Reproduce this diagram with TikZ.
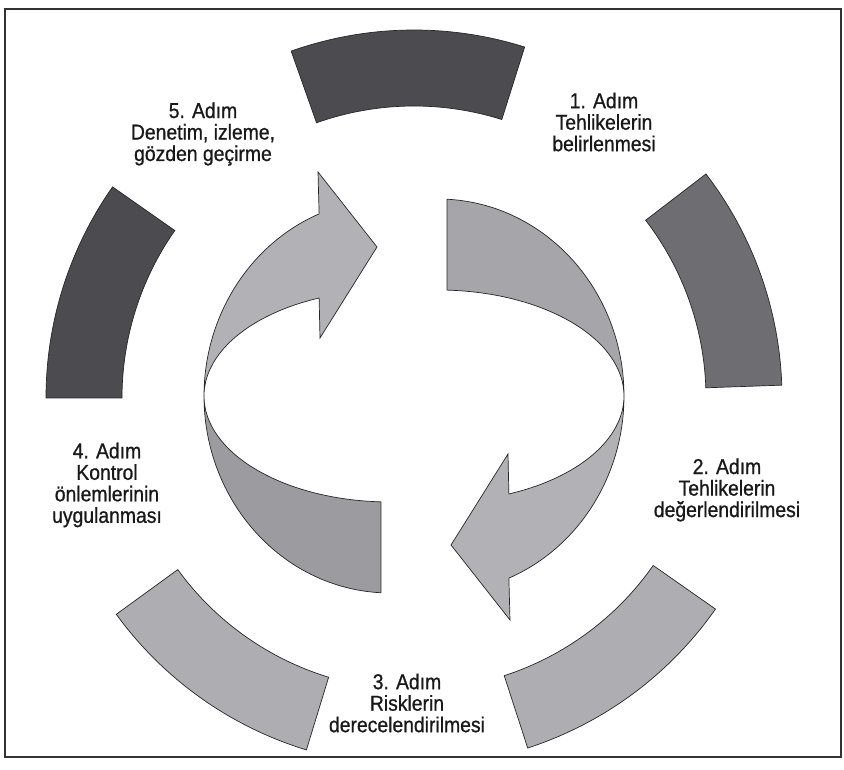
\documentclass[tikz,border=0pt]{standalone}
\usepackage{fontspec}
\setmainfont{Liberation Sans}[FakeStretch=0.9, FakeBold=0.8]
\definecolor{segdark}{HTML}{4C4C50}
\definecolor{segmid}{HTML}{6E6E72}
\definecolor{seglight}{HTML}{AEAEB2}
\definecolor{headfill}{HTML}{B2B2B6}
\definecolor{tailleft}{HTML}{9C9CA0}
\definecolor{tailright}{HTML}{A6A6AA}
\begin{document}
\begin{tikzpicture}[x=1pt,y=1pt,
  framestyle/.style={draw=black!80, line width=1.2pt},
  segstyle/.style={draw=black!85, line width=0.7pt},
  bandstyle/.style={draw=black!85, line width=0.7pt},
  lbl/.style={align=center, inner sep=0pt, text=black!90, font=\fontsize{21.5}{21.5}\selectfont}]
\useasboundingbox (0,0) rectangle (844,770);
\fill[white] (0,0) rectangle (844,770);
% frame
\draw[framestyle] (5,13) rectangle (841,761);
% outer ring segments
\begin{scope}[shift={(414,372)}]
\foreach \a/\b/\c in {72.5/109.5/segdark, 2/37.5/segmid, -72/-35/seglight, -144/-107/seglight, 145/180/segdark}
  \draw[segstyle, fill=\c] (\a:368) arc[start angle=\a, end angle=\b, radius=368]
     -- (\b:292) arc[start angle=\b, end angle=\a, radius=292] -- cycle;
\end{scope}
% left circular arrow
\begin{scope}[shift={(390,374)}]
  \draw[bandstyle, fill=tailleft] (180:186 and 197)
     arc[start angle=180, end angle=267.2, x radius=186, y radius=197]
     -- (267.2:186 and 106)
     arc[start angle=267.2, end angle=180, x radius=186, y radius=106] -- cycle;
  \draw[bandstyle, fill=headfill] (112.4:186 and 197)
     arc[start angle=112.4, end angle=180, x radius=186, y radius=197]
     arc[start angle=180, end angle=112.4, x radius=186, y radius=106]
     -- (-70,58) -- (-13,149) -- (-72,224) -- cycle;
\end{scope}
% right circular arrow (point symmetric)
\begin{scope}[shift={(438,374)}, rotate=180]
  \draw[bandstyle, fill=tailright] (180:186 and 197)
     arc[start angle=180, end angle=267.2, x radius=186, y radius=197]
     -- (267.2:186 and 106)
     arc[start angle=267.2, end angle=180, x radius=186, y radius=106] -- cycle;
  \draw[bandstyle, fill=headfill] (112.4:186 and 197)
     arc[start angle=112.4, end angle=180, x radius=186, y radius=197]
     arc[start angle=180, end angle=112.4, x radius=186, y radius=106]
     -- (-70,58) -- (-13,149) -- (-72,224) -- cycle;
\end{scope}
% labels
\node[lbl] (s5) at (203,636) {5. Adım\\Denetim, izleme,\\gözden geçirme};
\node[lbl] (s1) at (604,648) {1. Adım\\Tehlikelerin\\belirlenmesi};
\node[lbl] (s2) at (727,280) {2. Adım\\Tehlikelerin\\değerlendirilmesi};
\node[lbl] (s3) at (407,67) {3. Adım\\Risklerin\\derecelendirilmesi};
\node[lbl] (s4) at (107,285) {4. Adım\\Kontrol\\önlemlerinin\\uygulanması};
\end{tikzpicture}
\end{document}
